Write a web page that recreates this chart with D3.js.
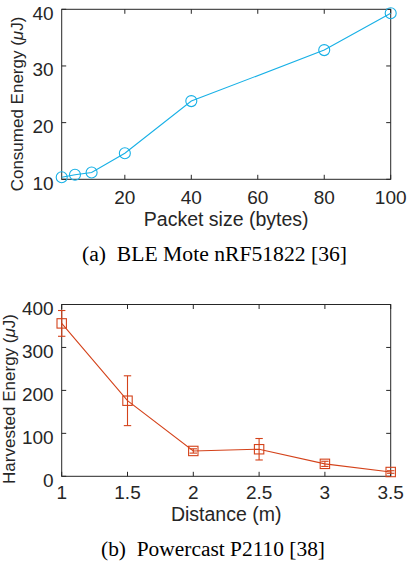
<!DOCTYPE html>
<html>
<head>
<meta charset="utf-8">
<script src="https://cdn.jsdelivr.net/npm/d3@7"></script>
<style>
  html, body { margin: 0; padding: 0; background: #fff; }
  svg { display: block; }
</style>
</head>
<body>
<svg id="fig" width="407" height="566"></svg>
<script>
// (a) BLE Mote nRF51822: consumed energy vs packet size
const packetSizes = [1, 5, 10, 20, 40, 80, 100];
const consumedEnergy = [10.35, 10.8, 11.2, 14.6, 23.8, 32.8, 39.3];
const packetTicks = [20, 40, 60, 80, 100];
const consumedTicks = [10, 20, 30, 40];

// (b) Powercast P2110: harvested energy vs distance, with error bars
const distances = [1, 1.5, 2, 2.5, 3, 3.5];
const harvestedEnergy = [356, 176, 59, 63, 29, 10];
const harvestedError = [30, 58, 5, 25, 6, 3];
const distanceTicks = [1, 1.5, 2, 2.5, 3, 3.5];
const harvestedTicks = [0, 100, 200, 300, 400];

const AXIS = "#262626";
const SANS = "'Liberation Sans', Arial, sans-serif";
const SERIF = "'Liberation Serif', 'Times New Roman', serif";
const TICK = 4.5;

const svg = d3.select("#fig");

function panel(cfg) {
  const g = svg.append("g");
  const x = d3.scaleLinear().domain(cfg.xDomain).range([cfg.left, cfg.right]);
  const y = d3.scaleLinear().domain(cfg.yDomain).range([cfg.bottom, cfg.top]);

  // axes box
  g.append("rect")
    .attr("x", cfg.left).attr("y", cfg.top)
    .attr("width", cfg.right - cfg.left).attr("height", cfg.bottom - cfg.top)
    .attr("fill", "#fff").attr("stroke", AXIS).attr("stroke-width", 1);

  // inward ticks on all four sides
  const ticks = g.append("g").attr("stroke", AXIS).attr("stroke-width", 1);
  cfg.xTicks.forEach(t => {
    const px = x(t);
    ticks.append("line").attr("x1", px).attr("x2", px).attr("y1", cfg.bottom).attr("y2", cfg.bottom - TICK);
    ticks.append("line").attr("x1", px).attr("x2", px).attr("y1", cfg.top).attr("y2", cfg.top + TICK);
  });
  cfg.yTicks.forEach(t => {
    const py = y(t);
    ticks.append("line").attr("x1", cfg.left).attr("x2", cfg.left + TICK).attr("y1", py).attr("y2", py);
    ticks.append("line").attr("x1", cfg.right).attr("x2", cfg.right - TICK).attr("y1", py).attr("y2", py);
  });

  // tick labels
  g.append("g").selectAll("text").data(cfg.xTicks).join("text")
    .attr("x", d => x(d)).attr("y", cfg.bottom + cfg.xLabelOffset)
    .attr("text-anchor", "middle")
    .attr("font-family", SANS).attr("font-size", 19).attr("fill", AXIS)
    .text(d => d);
  g.append("g").selectAll("text").data(cfg.yTicks).join("text")
    .attr("x", cfg.left - 8).attr("y", d => y(d) + 10.5)
    .attr("text-anchor", "end")
    .attr("font-family", SANS).attr("font-size", 19).attr("fill", AXIS)
    .text(d => d);

  // axis titles
  g.append("text")
    .attr("x", (cfg.left + cfg.right) / 2).attr("y", cfg.xTitleY)
    .attr("text-anchor", "middle")
    .attr("font-family", SANS).attr("font-size", 19.5).attr("fill", AXIS)
    .text(cfg.xTitle);
  const yt = g.append("text")
    .attr("transform", `translate(${cfg.yTitleX},${cfg.yTitleY}) rotate(-90)`)
    .attr("text-anchor", "middle")
    .attr("font-family", SANS).attr("font-size", 17).attr("fill", AXIS);
  yt.append("tspan").text(cfg.yTitle + " (");
  yt.append("tspan").attr("font-style", "italic").text("\u03bc");
  yt.append("tspan").text("J)");

  // caption
  g.append("text")
    .attr("x", cfg.captionX).attr("y", cfg.captionY)
    .attr("text-anchor", "middle")
    .attr("font-family", SERIF).attr("font-size", 20).attr("fill", "#000")
    .attr("textLength", cfg.captionWidth).attr("lengthAdjust", "spacingAndGlyphs")
    .text(cfg.caption);

  return { g, x, y };
}

// ---- panel (a) ----
const A = panel({
  left: 61.7, right: 390.7, top: 9.3, bottom: 179.3,
  xDomain: [1, 100], yDomain: [10, 40],
  xTicks: packetTicks, yTicks: consumedTicks,
  xLabelOffset: 25, xTitleY: 226, xTitle: "Packet size (bytes)",
  yTitleX: 23.3, yTitleY: 104, yTitle: "Consumed Energy",
  caption: "(a)\u2002BLE Mote nRF51822 [36]", captionX: 214.5, captionY: 260.7, captionWidth: 265
});
const blue = "#17b0e6";
const ptsA = packetSizes.map((d, i) => [A.x(d), A.y(consumedEnergy[i])]);
A.g.append("path").attr("d", d3.line()(ptsA))
  .attr("fill", "none").attr("stroke", blue).attr("stroke-width", 1.1);
A.g.append("g").selectAll("circle").data(ptsA).join("circle")
  .attr("cx", d => d[0]).attr("cy", d => d[1]).attr("r", 5.5)
  .attr("fill", "none").attr("stroke", blue).attr("stroke-width", 1.1);

// ---- panel (b) ----
const B = panel({
  left: 61.7, right: 390.7, top: 304.5, bottom: 476.3,
  xDomain: [1, 3.5], yDomain: [0, 400],
  xTicks: distanceTicks, yTicks: harvestedTicks,
  xLabelOffset: 23, xTitleY: 521, xTitle: "Distance (m)",
  yTitleX: 15, yTitleY: 399, yTitle: "Harvested Energy",
  caption: "(b)\u2002Powercast P2110 [38]", captionX: 213, captionY: 555.5, captionWidth: 224
});
const red = "#d4421a";
const ptsB = distances.map((d, i) => [B.x(d), B.y(harvestedEnergy[i])]);
B.g.append("path").attr("d", d3.line()(ptsB))
  .attr("fill", "none").attr("stroke", red).attr("stroke-width", 1.1);

const err = B.g.append("g").attr("stroke", red).attr("stroke-width", 1.1).attr("fill", "none");
distances.forEach((d, i) => {
  const px = B.x(d);
  const yHi = B.y(harvestedEnergy[i] + harvestedError[i]);
  const yLo = B.y(harvestedEnergy[i] - harvestedError[i]);
  err.append("line").attr("x1", px).attr("x2", px).attr("y1", yHi).attr("y2", yLo);
  err.append("line").attr("x1", px - 3.7).attr("x2", px + 3.7).attr("y1", yHi).attr("y2", yHi);
  err.append("line").attr("x1", px - 3.7).attr("x2", px + 3.7).attr("y1", yLo).attr("y2", yLo);
});
B.g.append("g").selectAll("rect").data(ptsB).join("rect")
  .attr("x", d => d[0] - 4.7).attr("y", d => d[1] - 4.7)
  .attr("width", 9.4).attr("height", 9.4)
  .attr("fill", "none").attr("stroke", red).attr("stroke-width", 1.1);
</script>
</body>
</html>
